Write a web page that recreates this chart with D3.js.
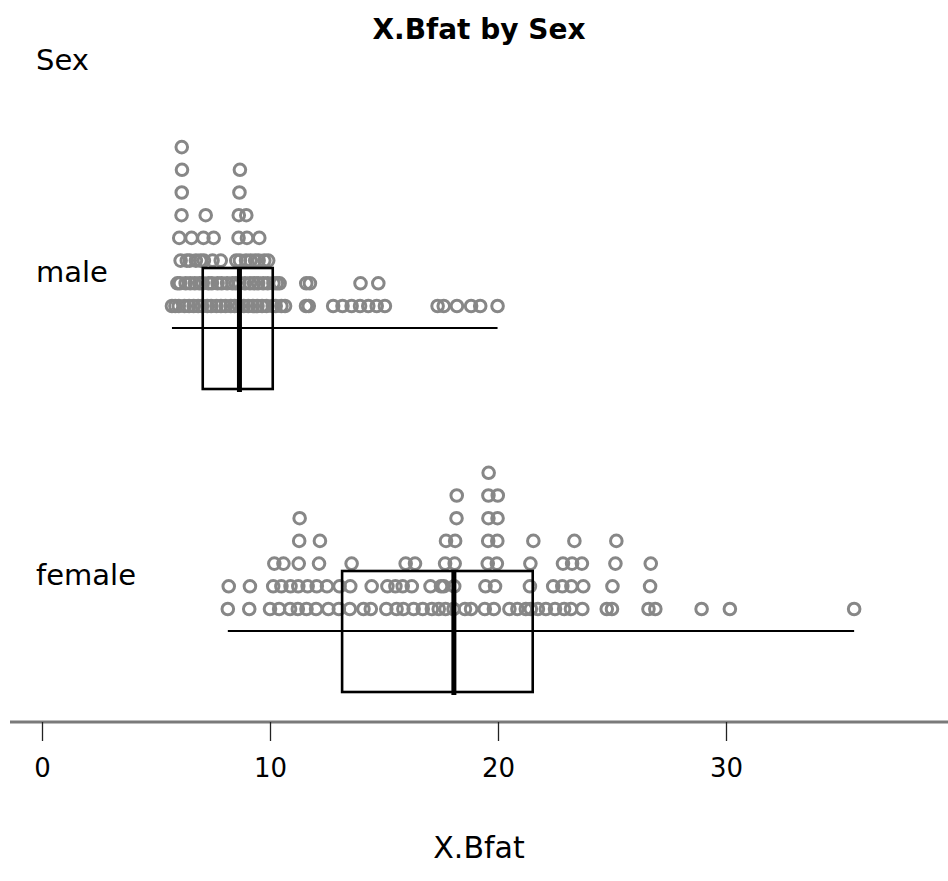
<!DOCTYPE html>
<html>
<head>
<meta charset="utf-8">
<script src="https://cdn.jsdelivr.net/npm/d3@7"></script>
<style>
  html, body { margin: 0; padding: 0; background: #fff; }
  svg { display: block; }
  text { font-family: "DejaVu Sans", Verdana, sans-serif; fill: #000; }
</style>
</head>
<body>
<svg id="chart" width="948" height="881"></svg>
<script>
// Body fat (%) by sex — stacked dot plot with box plots.
const groups = ["male", "female"];

// Values listed column by column; within a bin, earlier values sit lower in the stack.
const maleBfat = [
  5.7,
  5.85, 5.94,
  6.0, 6.05, 6.08, 6.02, 6.12, 6.13, 6.14, 6.13,
  6.25, 6.3, 6.35,
  6.45, 6.5, 6.48, 6.56,
  6.65, 6.7, 6.75,
  6.85, 6.9, 6.95,
  7.02, 7.05, 7.1, 7.08, 7.18,
  7.25, 7.3,
  7.42, 7.45, 7.48, 7.53,
  7.65, 7.7,
  7.85, 7.88, 7.84,
  8.05, 8.12,
  8.28, 8.35,
  8.45, 8.5, 8.52,
  8.64, 8.66, 8.68, 8.62, 8.63, 8.66, 8.68,
  8.85, 8.9, 8.95, 8.99, 8.96,
  9.05, 9.12, 9.15,
  9.25, 9.3, 9.35,
  9.45, 9.48, 9.5, 9.53,
  9.65, 9.7, 9.75,
  9.85, 9.9, 9.92,
  10.12, 10.15,
  10.25, 10.3,
  10.5, 10.42,
  10.66,
  11.58, 11.59,
  11.7, 11.75,
  12.77, 13.18, 13.58,
  13.95, 13.97,
  14.31,
  14.68, 14.75,
  15.04,
  17.35, 17.62, 18.2, 18.82, 19.22, 19.98
];

const femaleBfat = [
  8.15, 8.19,
  9.09, 9.12,
  10.0, 10.14, 10.19,
  10.4, 10.5, 10.59,
  10.88, 10.9,
  11.22, 11.24, 11.26, 11.28, 11.3,
  11.6, 11.65,
  12.02, 12.05, 12.15, 12.19,
  12.56, 12.5,
  13.02, 13.05,
  13.5, 13.52, 13.58,
  14.1,
  14.42, 14.46,
  15.1, 15.15,
  15.55, 15.5,
  15.85, 15.82, 15.95,
  16.3, 16.22, 16.36,
  16.7,
  17.1, 17.04,
  17.4, 17.5,
  17.7, 17.62, 17.68, 17.72,
  18.05, 18.08, 18.1, 18.12, 18.18, 18.19,
  18.55,
  18.82,
  19.42, 19.45, 19.55, 19.57, 19.58, 19.58, 19.59,
  19.82, 19.87, 19.95, 19.97, 19.98, 19.99,
  20.5,
  20.85,
  21.22,
  21.44, 21.4, 21.42, 21.55,
  21.75,
  22.1,
  22.5, 22.42,
  22.9, 22.82, 22.85,
  23.2, 23.22, 23.25, 23.35,
  23.7, 23.74, 23.68,
  24.77,
  25.0, 25.02, 25.15, 25.19,
  26.6, 26.67, 26.7,
  26.9,
  28.93,
  30.17,
  35.62
];

const tickValues = [0, 10, 20, 30];
const titleText = "X.Bfat by Sex";
const xLabel = "X.Bfat";
const yLabel = "Sex";

const valuesByGroup = { male: maleBfat, female: femaleBfat };

const W = 948, H = 881;
const svg = d3.select("#chart");

// horizontal scale: 0 at 42px, 10 units = 228px
const x = d3.scaleLinear().domain([0, 10]).range([42, 270]);
const xFull = x.copy().domain([x.invert(10), x.invert(W)]).range([10, W]);

// baseline of the lowest row of dots in each group
const yGroup = d3.scalePoint().domain(groups).range([306, 609]);

const binWidth = 0.2;   // stacking bin width, in data units
const rowStep = 22.7;   // vertical distance between stacked dots
const dotR = 5.8;

function stackDots(values) {
  const counts = new Map();
  return values.map(v => {
    const b = Math.floor(v / binWidth + 1e-6);
    const level = counts.get(b) || 0;
    counts.set(b, level + 1);
    return { v, level };
  });
}

// dots
groups.forEach(g => {
  const base = yGroup(g);
  svg.append("g")
    .attr("class", "dots-" + g)
    .selectAll("circle")
    .data(stackDots(valuesByGroup[g]))
    .join("circle")
    .attr("cx", d => x(d.v))
    .attr("cy", d => base - d.level * rowStep)
    .attr("r", dotR)
    .attr("fill", "none")
    .attr("stroke", "#878787")
    .attr("stroke-width", 3);
});

// box plots drawn over the dots
groups.forEach(g => {
  const base = yGroup(g);
  const s = valuesByGroup[g].slice().sort(d3.ascending);
  const lo = d3.min(s), hi = d3.max(s);
  const q1 = d3.quantile(s, 0.25), med = d3.quantile(s, 0.5), q3 = d3.quantile(s, 0.75);
  const yWhisk = base + 22;
  const boxTop = base - 38, boxBot = base + 83;
  const gb = svg.append("g").attr("class", "box-" + g);
  gb.append("line")
    .attr("x1", x(lo)).attr("x2", x(hi))
    .attr("y1", yWhisk).attr("y2", yWhisk)
    .attr("stroke", "#000").attr("stroke-width", 2);
  gb.append("rect")
    .attr("x", x(q1)).attr("y", boxTop)
    .attr("width", x(q3) - x(q1)).attr("height", boxBot - boxTop)
    .attr("fill", "none")
    .attr("stroke", "#000").attr("stroke-width", 2.6);
  gb.append("line")
    .attr("x1", x(med)).attr("x2", x(med))
    .attr("y1", boxTop).attr("y2", boxBot + 3)
    .attr("stroke", "#000").attr("stroke-width", 5);
});

// group labels
svg.append("g").selectAll("text")
  .data(groups)
  .join("text")
  .attr("x", 36)
  .attr("y", g => yGroup(g) - 24)
  .attr("font-size", 29)
  .text(g => g);

// x axis
const axis = d3.axisBottom(xFull).tickValues(tickValues).tickSize(19).tickFormat(d3.format("d"));
const gx = svg.append("g").attr("transform", "translate(0,722)").call(axis);
gx.select(".domain").attr("stroke", "#7a7a7a").attr("stroke-width", 3).attr("d", `M${10},0H${W}`);
gx.selectAll(".tick line").attr("stroke", "#222").attr("stroke-width", 1.3);
gx.selectAll(".tick text")
  .attr("y", 55)
  .attr("dy", 0)
  .attr("font-size", 26)
  .attr("font-family", "\"DejaVu Sans\", Verdana, sans-serif")
  .attr("fill", "#000");

// titles
svg.append("text")
  .attr("x", 479).attr("y", 39)
  .attr("text-anchor", "middle")
  .attr("font-size", 28)
  .attr("font-weight", "bold")
  .text(titleText);

svg.append("text")
  .attr("x", 36).attr("y", 70)
  .attr("font-size", 29)
  .text(yLabel);

svg.append("text")
  .attr("x", 479).attr("y", 858)
  .attr("text-anchor", "middle")
  .attr("font-size", 30)
  .text(xLabel);
</script>
</body>
</html>
